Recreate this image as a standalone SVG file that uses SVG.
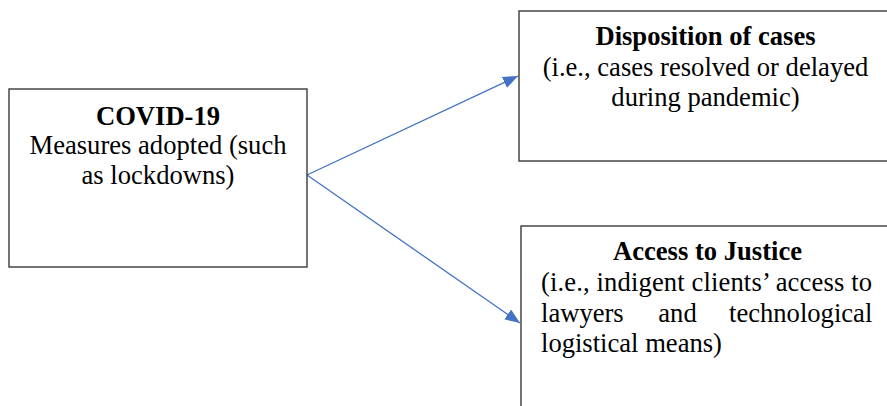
<svg xmlns="http://www.w3.org/2000/svg" width="887" height="406" viewBox="0 0 887 406">
<style>
.box{fill:#fff;stroke:#3a3a3a;stroke-width:1.4}
.t{font-family:"Liberation Serif","Times New Roman",serif;font-size:26.6px;fill:#000}
.b{font-weight:bold}
.c{text-anchor:middle}
.conn{stroke:#4472C4;stroke-width:1.3;fill:none;marker-end:url(#ah)}
</style>
<defs>
<marker id="ah" markerUnits="userSpaceOnUse" markerWidth="16" markerHeight="12" refX="15" refY="6" orient="auto">
<path d="M0,0 L15,6 L0,12 Z" fill="#4472C4"/>
</marker>
</defs>
<rect width="887" height="406" fill="#fff"/>
<g id="connectors">
<line class="conn" x1="307" y1="175" x2="518" y2="76"/>
<line class="conn" x1="307" y1="175" x2="520" y2="323"/>
</g>
<g id="covid">
<rect class="box" x="9" y="89" width="298" height="178"/>
<text class="t b c" x="158" y="124.5">COVID-19</text>
<text class="t c" x="158" y="154">Measures adopted (such</text>
<text class="t c" x="158" y="183.5">as lockdowns)</text>
</g>
<g id="disposition">
<rect class="box" x="519" y="11" width="380" height="150"/>
<text class="t b c" x="705.5" y="44.5">Disposition of cases</text>
<text class="t c" x="705.5" y="75.5">(i.e., cases resolved or delayed</text>
<text class="t c" x="705.5" y="106">during pandemic)</text>
</g>
<g id="access">
<rect class="box" x="521" y="226" width="380" height="200"/>
<text class="t b c" x="707.5" y="260">Access to Justice</text>
<text class="t" x="541" y="291" textLength="331" lengthAdjust="spacing">(i.e., indigent clients’ access to</text>
<text class="t" x="541" y="321.5">lawyers</text>
<text class="t" x="658.3" y="321.5">and</text>
<text class="t" x="872.3" y="321.5" text-anchor="end">technological</text>
<text class="t" x="541" y="351.5">logistical means)</text>
</g>
</svg>
